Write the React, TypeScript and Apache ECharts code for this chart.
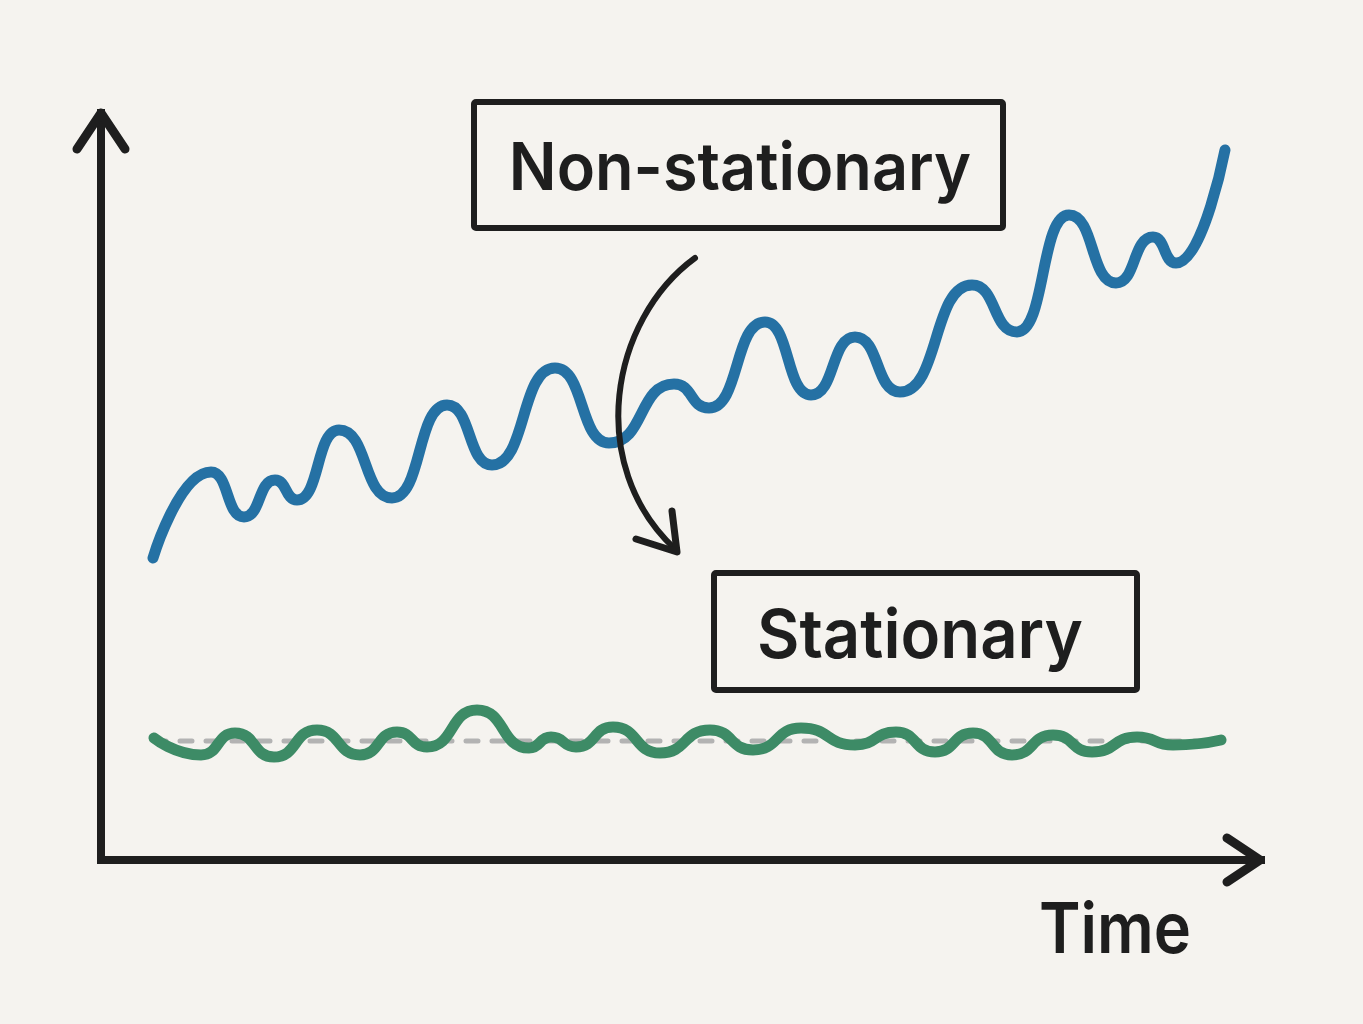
import React, { useEffect, useRef } from "react";
import * as echarts from "echarts";

// Time units along the x axis, arbitrary level units on the y axis
const blueTime = [5.2, 11.0, 14.3, 17.4, 19.6, 23.8, 29.1, 34.6, 39.1, 45.4, 50.8, 57.3, 60.8, 66.4, 71.0, 75.4, 79.9, 87.1, 91.6, 96.8, 101.5, 105.2, 107.5, 112.4];
const blueValue = [30.2, 38.8, 34.3, 38.0, 36.0, 43.0, 36.2, 45.5, 39.5, 49.2, 41.7, 47.6, 45.2, 53.8, 46.5, 52.3, 46.8, 57.5, 52.8, 64.5, 57.7, 62.3, 59.7, 71.0];

const greenTime = [5.3, 10.0, 13.4, 17.3, 21.6, 25.9, 29.6, 32.6, 37.6, 42.8, 45.0, 47.5, 51.2, 55.9, 60.9, 65.2, 70.0, 75.4, 79.5, 83.4, 87.2, 91.1, 95.2, 99.1, 103.6, 107.2, 112.0];
const greenValue = [12.2, 10.5, 12.7, 10.3, 13.0, 10.5, 12.8, 11.3, 15.0, 11.2, 12.3, 11.3, 13.3, 10.7, 13.0, 11.0, 13.2, 11.5, 12.8, 10.8, 12.7, 10.5, 12.5, 10.8, 12.3, 11.5, 12.0];

const meanTime = [5.3, 112.0];
const meanValue = [11.9, 11.9];

const labels = { top: "Non-stationary", bottom: "Stationary", xName: "Time" };

const ink = "#1e1e1e";

export default function App() {
  const ref = useRef<HTMLDivElement>(null);
  useEffect(() => {
    document.body.style.margin = "0";
    const chart = echarts.init(ref.current!, null, { renderer: "svg" });
    const zip = (xs: number[], ys: number[]) => xs.map((x, i) => [x, ys[i]]);
    const axisCommon = {
      type: "value" as const,
      axisLine: { show: true, onZero: false, lineStyle: { color: ink, width: 8, cap: "square" } },
      axisTick: { show: false },
      axisLabel: { show: false },
      splitLine: { show: false },
    };
    const font = "Inter, 'Noto Sans', sans-serif";
    chart.setOption({
      backgroundColor: "#f5f3ef",
      animation: false,
      grid: { left: 101, right: 102, top: 113, bottom: 164 },
      xAxis: { ...axisCommon, min: 0, max: 116 },
      yAxis: { ...axisCommon, min: 0, max: 74.7 },
      series: [
        {
          type: "line",
          data: zip(meanTime, meanValue),
          symbol: "none",
          lineStyle: { color: "#b3b3b3", width: 5, type: [12, 14], cap: "round" },
          z: 1,
        },
        {
          type: "line",
          data: zip(greenTime, greenValue),
          symbol: "none",
          smooth: 0.55,
          smoothMonotone: "x",
          lineStyle: { color: "#3d8b66", width: 11, cap: "round", join: "round" },
          z: 2,
        },
        {
          type: "line",
          data: zip(blueTime, blueValue),
          symbol: "none",
          smooth: 0.55,
          smoothMonotone: "x",
          lineStyle: { color: "#2571a4", width: 11, cap: "round", join: "round" },
          z: 3,
        },
      ],
      graphic: [
        {
          type: "polyline",
          z: 50,
          shape: { points: [[77, 149], [101, 113], [125, 149]] },
          style: { stroke: ink, lineWidth: 9, fill: "none", lineCap: "round", lineJoin: "round" },
        },
        {
          type: "polyline",
          z: 50,
          shape: { points: [[1227, 838], [1260, 860], [1227, 882]] },
          style: { stroke: ink, lineWidth: 9, fill: "none", lineCap: "round", lineJoin: "round" },
        },
        {
          type: "rect",
          z: 50,
          shape: { x: 474, y: 102, width: 529, height: 126, r: 2 },
          style: { stroke: ink, lineWidth: 6, fill: "none" },
        },
        {
          type: "text",
          z: 51,
          x: 740,
          y: 166,
          scaleX: 0.955,
          style: {
            text: labels.top,
            font: `600 66px ${font}`,
            fill: ink,
            textAlign: "center",
            textVerticalAlign: "middle",
          },
        },
        {
          type: "rect",
          z: 50,
          shape: { x: 714, y: 573, width: 423, height: 117, r: 2 },
          style: { stroke: ink, lineWidth: 6, fill: "none" },
        },
        {
          type: "text",
          z: 51,
          x: 920,
          y: 633,
          scaleX: 0.96,
          style: {
            text: labels.bottom,
            font: `600 68px ${font}`,
            fill: ink,
            textAlign: "center",
            textVerticalAlign: "middle",
          },
        },
        {
          type: "text",
          z: 51,
          x: 1115,
          y: 927,
          scaleX: 0.9,
          style: {
            text: labels.xName,
            font: `600 70px ${font}`,
            fill: ink,
            textAlign: "center",
            textVerticalAlign: "middle",
          },
        },
        {
          type: "bezierCurve",
          z: 60,
          shape: { x1: 695, y1: 258, cpx1: 610, cpy1: 320, cpx2: 585, cpy2: 465, x2: 675, y2: 549 },
          style: { stroke: ink, lineWidth: 6, fill: "none", lineCap: "round" },
        },
        {
          type: "polyline",
          z: 60,
          shape: { points: [[672, 511], [677, 552], [636, 539]] },
          style: { stroke: ink, lineWidth: 7, fill: "none", lineCap: "round", lineJoin: "round" },
        },
      ],
    });
    return () => chart.dispose();
  }, []);
  return <div ref={ref} style={{ width: 1363, height: 1024 }} />;
}
